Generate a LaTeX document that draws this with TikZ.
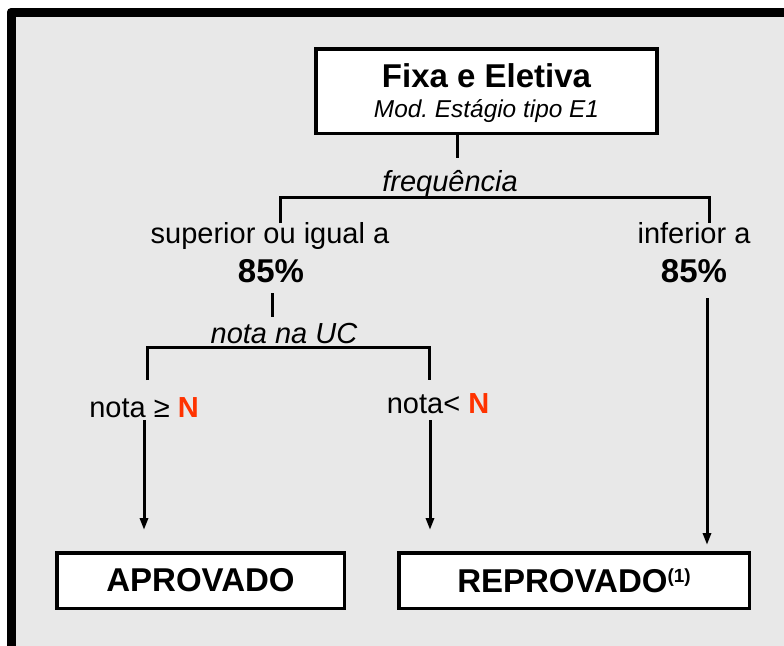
\documentclass[tikz,border=0pt]{standalone}
\usepackage{fontspec}
\setmainfont{Liberation Sans}
\usetikzlibrary{arrows.meta}
\definecolor{fundo}{RGB}{232,232,232}
\definecolor{nred}{RGB}{255,51,0}
\newcommand{\fr}{\fontsize{29}{35}\selectfont}
\newcommand{\fb}{\fontsize{33}{38}\selectfont\bfseries}
\frenchspacing

\begin{document}
\begin{tikzpicture}[x = 1pt, y = -1pt, line width = 3pt, anno/.style = {line width = 3pt,-{Triangle[length = 12pt, width = 8pt]}}]
    \useasboundingbox (0,0) rectangle (784,645);
    \clip (0,0) rectangle (784,645);
    \fill [black, rounded corners = 4pt] (7,8) rectangle (830,690);
    \fill [fundo] (16,17) rectangle (830,690);

    \tikzstyle{bx}=[draw, fill = white, line width = 3.5pt, inner sep = 0pt, align = center]
    \tikzstyle{lbl}=[inner sep = 0pt, anchor = base]

    \node[bx, minimum width = 341pt, minimum height = 84.5pt, font = \fontsize{24.4}{30}\selectfont] (0) at (486.5,91)
        {{\fb\rule{0pt}{29pt}Fixa e Eletiva}\\ \itshape Mod. Estágio tipo E1};
    \node[lbl, font = \fr\itshape] (1) at (450,191) {frequência};
    \node[lbl, font = \fr] (2) at (270,243) {superior ou igual a};
    \node[lbl, font = \fb] (3) at (271,282) {85\%};
    \node[lbl, font = \fr] (4) at (694,243) {inferior a};
    \node[lbl, font = \fb] (5) at (694,282) {85\%};
    \node[lbl, font = \fr\itshape] (6) at (284,343) {nota na UC};
    \node[lbl, font = \fr] (7) at (144,417) {nota ≥ {\bfseries\color{nred}N}};
    \node[lbl, font = \fr] (8) at (438,413) {nota< {\bfseries\color{nred}N}};
    \node[bx, minimum width = 287.5pt, minimum height = 55.5pt, font = \fb] (9) at (200.5,580.5) {APROVADO};
    \node[bx, minimum width = 350.5pt, minimum height = 55.5pt, font = \fb] (10) at (574,580.5)
        {REPROVADO\raisebox{10pt}{\fontsize{19}{19}\selectfont(1)}};

    \coordinate (0') at (457,158);
    \coordinate (2') at (280,223);
    \coordinate (4') at (709,223);
    \coordinate (1') at (450,197);
    \coordinate (3') at (272,293);
    \coordinate (3'') at (272,317);
    \coordinate (7') at (147,380);
    \coordinate (8') at (429,380);
    \coordinate (6') at (284,347);
    \coordinate (7'') at (144,420);
    \coordinate (8'') at (430,420);
    \coordinate (5') at (707,298);
    \coordinate (9') at (144,530);
    \coordinate (10') at (430,530);
    \coordinate (10'') at (707,545);

    \draw (0.south -| 0') to (0');
    \draw (2') |- (1') -| (4');
    \draw (3') to (3'');
    \draw (7') |- (6') -| (8');
    \draw [anno] (7'') to (9');
    \draw [anno] (8'') to (10');
    \draw [anno] (5') to (10'');
\end{tikzpicture}
\end{document}
